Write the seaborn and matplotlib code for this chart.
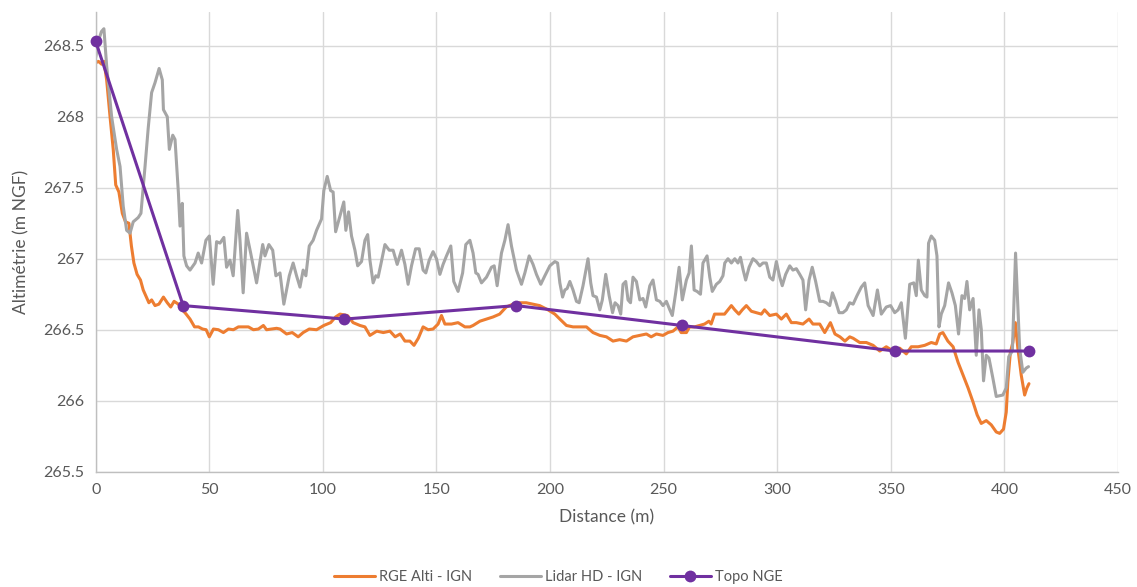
import matplotlib
matplotlib.use("Agg")
import matplotlib.pyplot as plt
import seaborn as sns
from matplotlib.ticker import MultipleLocator, FuncFormatter

# --- Données ---
rge_x = [0, 1.2, 2.6, 3.6, 4.8, 6.3, 7.7, 8.8, 10.2, 11.7, 13.1, 14.6, 15.7, 16.8, 18.2, 19.7,
         20.9, 22.3, 23.4, 24.6, 26.1, 27.8, 29.8, 31.5, 33.0, 34.5, 36.4, 37.9, 39.8, 41.5,
         43.5, 45.2, 47.0, 48.6, 50.0, 51.8, 54.0, 56.2, 58.4, 60.6, 62.8, 65.0, 67.2, 69.4,
         71.6, 73.8, 75.2, 77.4, 79.6, 81.1, 84.0, 86.5, 89.1, 91.3, 94.0, 97.2, 100.4, 103.4,
         105.6, 107.5, 110.8, 113.3, 116.3, 118.5, 120.7, 123.7, 126.6, 129.5, 131.8, 134.0,
         136.1, 138.3, 140.1, 142.0, 144.1, 146.3, 148.5, 150.7, 152.2, 153.7, 156.6, 159.5,
         162.5, 164.7, 166.1, 169.1, 172.0, 174.9, 177.8, 180.7, 183.7, 186.6, 189.5, 192.5,
         195.4, 199.1, 202.1, 204.3, 207.2, 210.1, 213.1, 216.0, 218.9, 221.9, 224.8, 227.7,
         230.6, 233.6, 236.5, 239.4, 242.4, 244.5, 246.8, 249.7, 251.9, 254.1, 256.3, 257.7,
         260.0, 261.4, 263.6, 265.8, 268.0, 269.9, 270.9, 272.4, 274.6, 276.8, 278.3, 279.8,
         281.3, 283.1, 284.6, 286.4, 288.6, 290.8, 293.0, 294.4, 296.7, 299.6, 301.8, 304.0,
         306.2, 308.4, 311.3, 314.0, 315.7, 318.7, 320.9, 323.4, 325.4, 327.6, 329.8, 331.9,
         333.4, 336.3, 339.2, 342.2, 345.1, 348.0, 351.0, 353.9, 356.8, 359.0, 362.0, 364.9,
         367.8, 370.0, 371.5, 372.9, 375.1, 377.4, 379.6, 381.8, 384.0, 386.2, 388.0, 389.8,
         392.0, 394.2, 396.4, 397.9, 399.6, 400.8, 401.5, 402.6, 403.7, 404.8, 405.9, 407.4,
         408.9, 409.9, 410.8]
rge_z = [268.38, 268.39, 268.37, 268.39, 268.26, 268.00, 267.77, 267.52, 267.47, 267.32, 267.26,
         267.25, 267.09, 266.97, 266.89, 266.85, 266.78, 266.73, 266.69, 266.71, 266.67, 266.68,
         266.73, 266.69, 266.66, 266.70, 266.68, 266.645, 266.61, 266.575, 266.52, 266.52,
         266.505, 266.50, 266.45, 266.505, 266.50, 266.48, 266.505, 266.50, 266.52, 266.52,
         266.52, 266.50, 266.505, 266.53, 266.50, 266.505, 266.51, 266.505, 266.47, 266.48,
         266.45, 266.48, 266.505, 266.50, 266.53, 266.55, 266.59, 266.61, 266.60, 266.55,
         266.53, 266.52, 266.46, 266.49, 266.48, 266.49, 266.45, 266.47, 266.42, 266.42,
         266.39, 266.44, 266.52, 266.50, 266.505, 266.54, 266.60, 266.54, 266.54, 266.55,
         266.52, 266.52, 266.53, 266.56, 266.575, 266.59, 266.61, 266.66, 266.68, 266.69,
         266.69, 266.68, 266.67, 266.64, 266.61, 266.575, 266.53, 266.52, 266.52, 266.52,
         266.48, 266.46, 266.45, 266.42, 266.43, 266.42, 266.45, 266.46, 266.47, 266.45,
         266.47, 266.46, 266.48, 266.49, 266.52, 266.48, 266.48, 266.52, 266.52, 266.53,
         266.54, 266.56, 266.54, 266.61, 266.61, 266.61, 266.64, 266.67, 266.64, 266.61,
         266.64, 266.67, 266.63, 266.62, 266.61, 266.64, 266.60, 266.61, 266.575, 266.61,
         266.55, 266.55, 266.54, 266.575, 266.54, 266.54, 266.48, 266.55, 266.47, 266.45,
         266.42, 266.45, 266.44, 266.41, 266.41, 266.39, 266.35, 266.38, 266.35, 266.37,
         266.33, 266.38, 266.38, 266.39, 266.41, 266.40, 266.47, 266.48, 266.42, 266.38,
         266.27, 266.18, 266.09, 265.99, 265.90, 265.84, 265.86, 265.83, 265.78, 265.77,
         265.80, 265.92, 266.13, 266.34, 266.41, 266.55, 266.37, 266.18, 266.04, 266.09, 266.12]

lidar_x = [0, 1.5, 2.5, 3.6, 4.8, 7.0, 9.2, 10.7, 12.1, 13.6, 15.1, 16.5, 18.7, 19.9, 21.7, 23.1,
           24.6, 26.1, 27.9, 29.3, 29.8, 31.5, 32.4, 33.9, 34.9, 36.4, 37.1, 38.1, 38.8, 40.0,
           41.5, 43.7, 45.1, 46.6, 48.5, 50.0, 51.7, 53.2, 54.7, 56.4, 57.6, 59.1, 60.5, 62.5,
           63.5, 64.9, 66.4, 68.2, 69.3, 70.8, 73.5, 74.5, 76.2, 77.9, 79.3, 81.1, 82.8, 84.0,
           85.2, 86.9, 88.4, 89.9, 91.3, 92.5, 94.0, 95.7, 97.2, 99.4, 100.4, 101.9, 103.4,
           104.5, 105.6, 107.5, 109.2, 110.1, 111.3, 112.6, 114.1, 115.3, 117.0, 118.5, 119.7,
           120.7, 122.1, 123.3, 124.3, 125.5, 127.3, 129.2, 130.9, 132.7, 134.6, 136.1, 137.5,
           139.0, 140.8, 142.4, 144.1, 145.3, 146.8, 148.5, 150.0, 151.5, 152.9, 154.4, 156.3,
           157.6, 159.5, 161.5, 162.9, 164.7, 166.1, 167.3, 168.3, 169.8, 172.0, 174.2, 175.4,
           176.7, 178.6, 180.1, 181.5, 183.0, 185.2, 187.4, 188.9, 190.8, 192.5, 194.0, 195.9,
           197.7, 199.9, 202.1, 203.3, 204.3, 205.5, 206.5, 207.5, 208.7, 210.1, 211.6, 212.8,
           214.5, 216.7, 217.9, 218.9, 220.4, 221.9, 223.0, 224.5, 226.0, 227.5, 228.6, 229.9,
           231.1, 232.1, 233.3, 234.3, 235.4, 236.5, 238.0, 239.5, 240.9, 242.1, 243.9, 245.3,
           246.8, 248.3, 249.7, 251.2, 252.7, 253.8, 255.3, 256.8, 258.2, 260.0, 261.2, 262.2,
           263.4, 264.7, 266.2, 267.3, 269.1, 270.3, 271.4, 273.2, 274.7, 276.1, 276.9, 278.3,
           279.8, 281.3, 282.7, 283.8, 285.0, 286.1, 287.6, 289.3, 290.8, 292.3, 293.7, 295.2,
           296.7, 298.1, 299.6, 301.1, 302.2, 303.7, 305.5, 306.9, 308.4, 309.9, 311.3, 312.5,
           314.0, 315.4, 316.9, 318.7, 320.1, 321.6, 323.1, 324.3, 325.7, 327.2, 328.9, 330.4,
           331.9, 333.4, 335.1, 337.0, 338.5, 340.0, 342.2, 344.1, 345.8, 348.0, 349.9, 351.7,
           353.2, 354.6, 356.4, 358.3, 360.1, 361.2, 362.1, 363.4, 364.9, 365.9, 366.6, 367.8,
           369.3, 370.3, 371.2, 372.2, 373.7, 375.4, 376.9, 378.4, 379.8, 381.3, 382.5, 383.5,
           384.7, 386.2, 387.6, 388.8, 389.8, 390.8, 392.0, 393.2, 394.9, 396.4, 399.3, 400.8,
           401.9, 403.5, 404.9, 406.7, 408.1, 409.6, 410.6]
lidar_z = [268.42, 268.55, 268.60, 268.62, 268.36, 268.00, 267.77, 267.65, 267.37, 267.20, 267.18,
           267.26, 267.29, 267.32, 267.65, 267.92, 268.17, 268.24, 268.34, 268.26, 268.05, 268.00,
           267.77, 267.87, 267.84, 267.46, 267.23, 267.39, 267.02, 266.95, 266.92, 266.97, 267.04,
           266.97, 267.13, 267.16, 266.82, 267.12, 267.11, 267.15, 266.94, 266.99, 266.88, 267.34,
           267.13, 266.76, 267.18, 267.04, 266.95, 266.83, 267.10, 267.02, 267.10, 267.06, 266.88,
           266.90, 266.68, 266.78, 266.88, 266.97, 266.88, 266.80, 266.92, 266.88, 267.09, 267.13,
           267.20, 267.28, 267.48, 267.58, 267.48, 267.47, 267.19, 267.30, 267.40, 267.20, 267.33,
           267.16, 267.06, 266.95, 266.98, 267.13, 267.17, 266.99, 266.83, 266.88, 266.87, 266.96,
           267.10, 267.06, 267.06, 266.96, 267.06, 266.96, 266.82, 266.95, 267.07, 267.07, 266.92,
           266.90, 266.99, 267.05, 267.00, 266.89, 266.96, 267.02, 267.09, 266.84, 266.77, 266.90,
           267.10, 267.13, 267.04, 266.90, 266.89, 266.83, 266.87, 266.94, 266.95, 266.81, 267.04,
           267.13, 267.24, 267.09, 266.92, 266.82, 266.90, 267.02, 266.96, 266.89, 266.82, 266.88,
           266.95, 266.98, 266.97, 266.83, 266.73, 266.78, 266.79, 266.84, 266.78, 266.70, 266.69,
           266.81, 267.00, 266.83, 266.74, 266.73, 266.64, 266.71, 266.89, 266.74, 266.62, 266.69,
           266.67, 266.61, 266.82, 266.84, 266.71, 266.69, 266.87, 266.84, 266.71, 266.72, 266.66,
           266.81, 266.85, 266.71, 266.70, 266.67, 266.70, 266.64, 266.60, 266.76, 266.94, 266.71,
           266.85, 266.90, 267.09, 266.78, 266.77, 266.75, 266.97, 267.02, 266.87, 266.77, 266.82,
           266.84, 266.88, 266.97, 267.00, 266.97, 267.00, 266.97, 267.01, 266.92, 266.85, 266.94,
           267.00, 266.98, 266.95, 266.97, 266.97, 266.87, 266.85, 266.98, 266.87, 266.81, 266.89,
           266.95, 266.92, 266.93, 266.89, 266.85, 266.64, 266.85, 266.94, 266.84, 266.70, 266.70,
           266.69, 266.67, 266.76, 266.70, 266.62, 266.62, 266.64, 266.69, 266.68, 266.74, 266.80,
           266.83, 266.67, 266.60, 266.78, 266.61, 266.66, 266.67, 266.62, 266.64, 266.69, 266.44,
           266.82, 266.83, 266.74, 266.99, 266.78, 266.74, 266.73, 267.11, 267.16, 267.13, 267.02,
           266.52, 266.61, 266.67, 266.83, 266.76, 266.67, 266.47, 266.74, 266.72, 266.84, 266.64,
           266.72, 266.32, 266.64, 266.505, 266.14, 266.32, 266.30, 266.16, 266.03, 266.04, 266.09,
           266.31, 266.35, 267.04, 266.37, 266.20, 266.23, 266.24]

topo_x = [0, 38.5, 109.5, 185.0, 258.0, 351.8, 411.0]
topo_z = [268.53, 266.67, 266.575, 266.67, 266.53, 266.35, 266.35]

labels = ["RGE Alti - IGN", "Lidar HD - IGN", "Topo NGE"]
colors = ["#ED7D31", "#A5A5A5", "#7030A0"]

sns.set_theme(style="white")
plt.rcParams['font.family'] = ['Lato', 'DejaVu Sans']
txt = "#595959"

fig = plt.figure(figsize=(11.37, 5.87), dpi=100)
ax = fig.add_axes([0.0842, 0.1964, 0.8991, 0.7837])

sns.lineplot(x=rge_x, y=rge_z, ax=ax, color=colors[0], lw=2.2, estimator=None, sort=False,
             label=labels[0])
sns.lineplot(x=lidar_x, y=lidar_z, ax=ax, color=colors[1], lw=2.2, estimator=None, sort=False,
             label=labels[1])
sns.lineplot(x=topo_x, y=topo_z, ax=ax, color=colors[2], lw=2.2, marker='o', markersize=8.5,
             markeredgewidth=0, estimator=None, sort=False, label=labels[2], clip_on=False,
             zorder=5)

ax.set_xlim(0, 450)
ax.set_ylim(265.5, 268.74)
ax.xaxis.set_major_locator(MultipleLocator(50))
ax.yaxis.set_major_locator(MultipleLocator(0.5))
ax.yaxis.set_major_formatter(FuncFormatter(lambda v, p: f"{v:g}"))
ax.grid(True, color="#D9D9D9", lw=1.0)
ax.set_axisbelow(True)
for s in ["top", "right"]:
    ax.spines[s].set_visible(False)
for s in ["left", "bottom"]:
    ax.spines[s].set_color("#BFBFBF")
    ax.spines[s].set_linewidth(1.0)
ax.tick_params(length=0, labelsize=11.5, colors=txt, pad=8)
ax.set_xlabel("Distance (m)", fontsize=12.5, color=txt, labelpad=9)
ax.set_ylabel("Altimétrie (m NGF)", fontsize=12.5, color=txt, labelpad=10)

ax.get_legend().remove()
h, l = ax.get_legend_handles_labels()
fig.legend(h, l, loc="center", bbox_to_anchor=(0.491, 0.017), ncol=3, frameon=False,
           fontsize=10.5, labelcolor=txt, handlelength=2.8, columnspacing=1.9, handletextpad=0.3)

fig.savefig("out.png", dpi=100, facecolor="white")
